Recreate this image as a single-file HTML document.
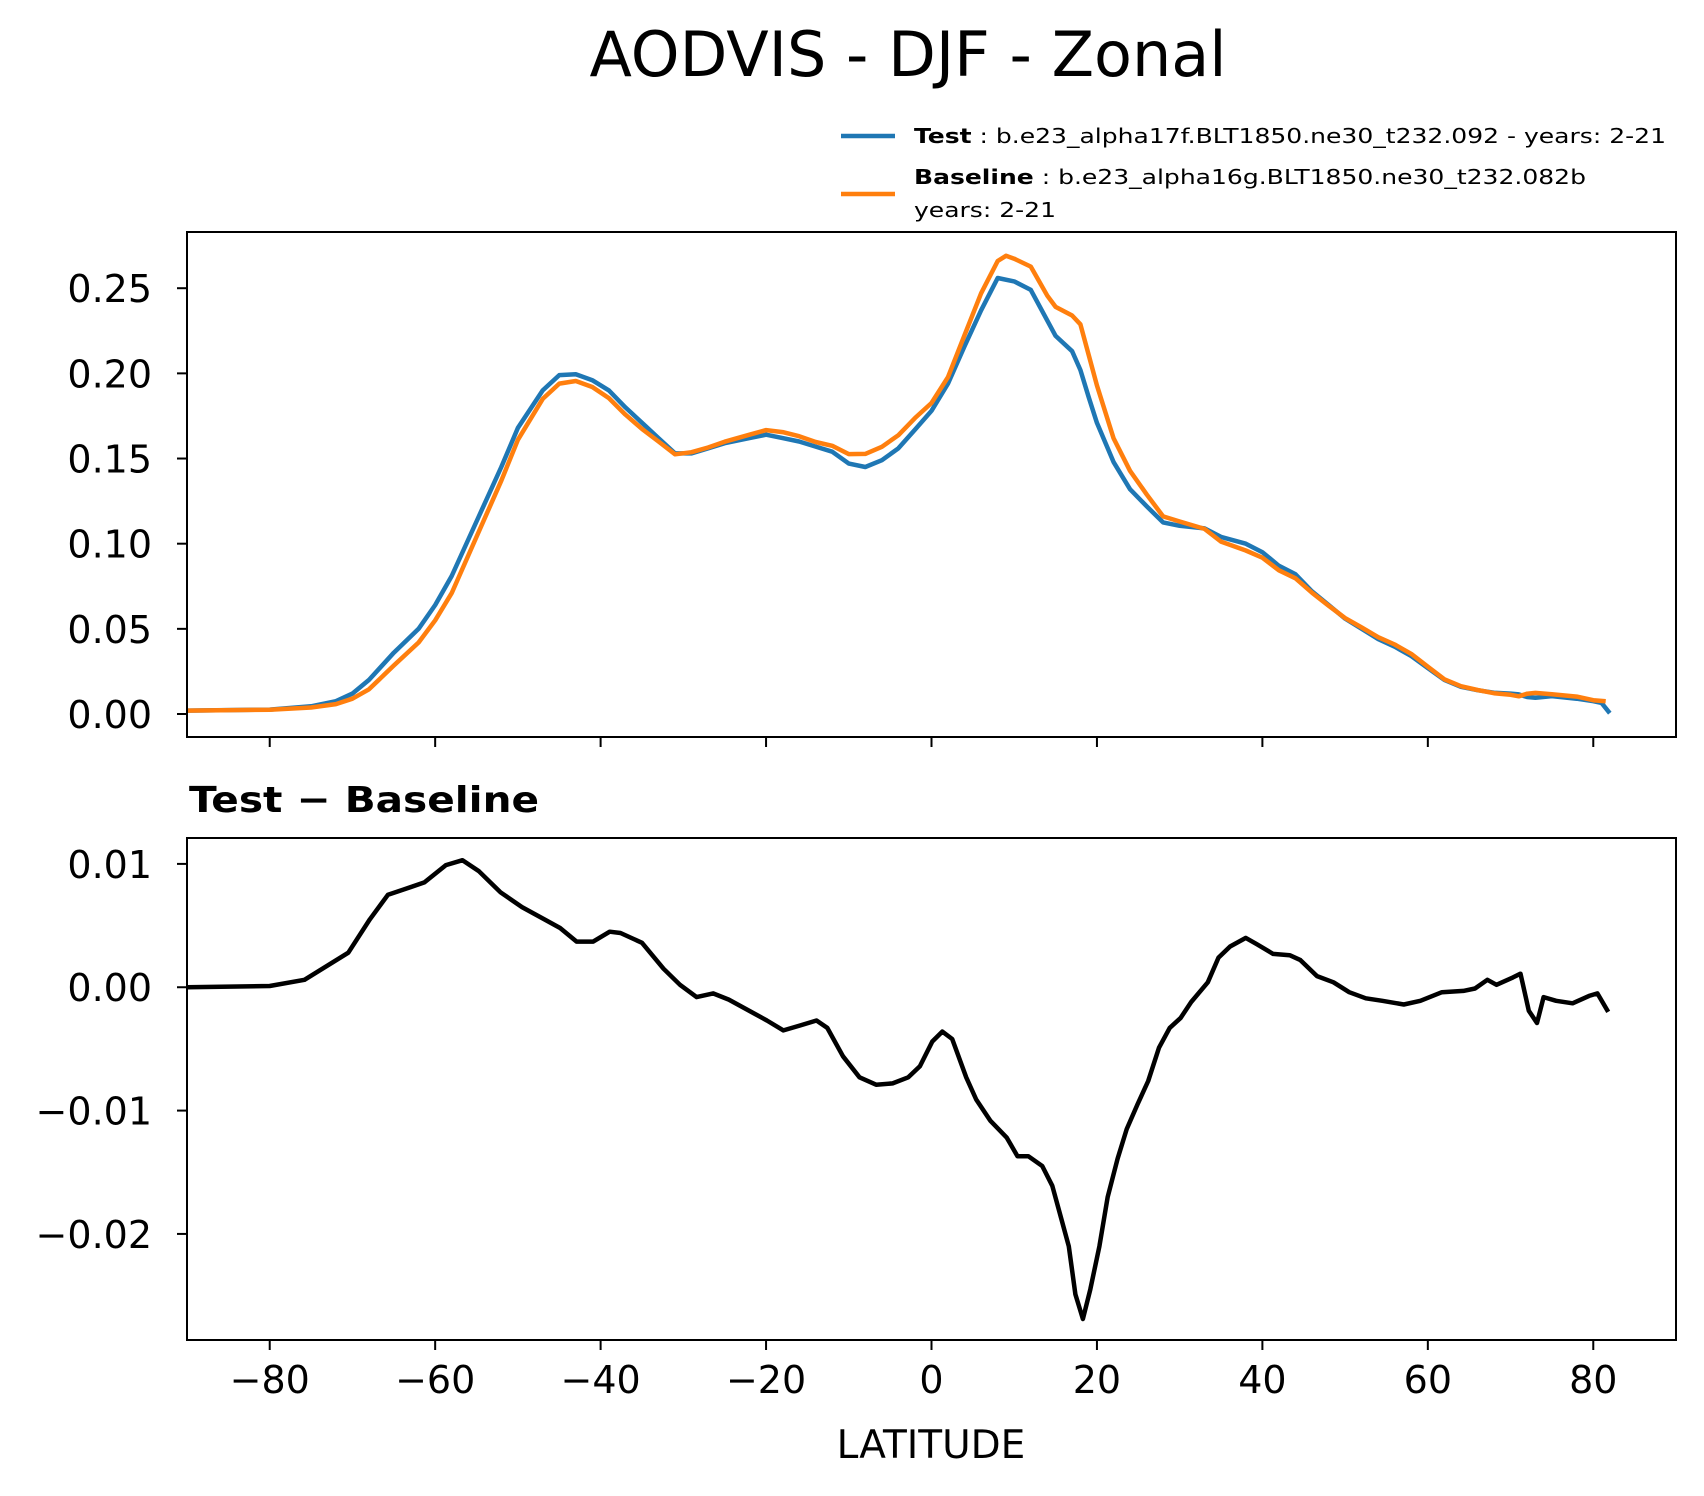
<!DOCTYPE html>
<html><head><meta charset="utf-8">
<style>
html,body{margin:0;padding:0;background:#fff;}
svg{display:block;font-family:"DejaVu Sans","Liberation Sans",sans-serif;}
</style></head>
<body>
<svg id="chart" width="1704" height="1496" viewBox="0 0 1704 1496" xmlns="http://www.w3.org/2000/svg">
  <rect width="1704" height="1496" fill="#fff"/>
  <text x="908" y="76" font-size="62" text-anchor="middle">AODVIS - DJF - Zonal</text>
  <g>
    <line x1="841" y1="136" x2="895" y2="136" stroke="#1f77b4" stroke-width="4.5"/>
    <text x="914" y="143" font-size="20" textLength="752" lengthAdjust="spacingAndGlyphs"><tspan font-weight="bold">Test</tspan> : b.e23_alpha17f.BLT1850.ne30_t232.092 - years: 2-21</text>
    <line x1="841" y1="194" x2="895" y2="194" stroke="#ff7f0e" stroke-width="4.5"/>
    <text x="914" y="184" font-size="20" textLength="672" lengthAdjust="spacingAndGlyphs"><tspan font-weight="bold">Baseline</tspan> : b.e23_alpha16g.BLT1850.ne30_t232.082b</text>
    <text x="914" y="217" font-size="20" textLength="142" lengthAdjust="spacingAndGlyphs">years: 2-21</text>
  </g>
  <g id="top"></g>
  <text x="189" y="812" font-size="36" font-weight="bold" textLength="350" lengthAdjust="spacingAndGlyphs">Test − Baseline</text>
  <g id="bot"></g>
  <text x="931" y="1458" font-size="39" text-anchor="middle">LATITUDE</text>
</svg>
<script>
// ---- data ----
const testLat = [-90,-80,-75,-72,-70,-68,-65,-62,-60,-58,-55,-52,-50,-47,-45,-43,-41,-39,-37,-35,-33,-31,-29,-27,-25,-22,-20,-18,-16,-14,-12,-10,-8,-6,-4,-2,0,2,4,6,8,10,12,14,15,17,18,19,20,22,24,26,28,30,33,35,38,40,42,44,46,48,50,52,54,56,58,60,62,64,66,68,70,71,72,73,75,78,80,81,82];
const testVal = [0.002,0.0026,0.0045,0.0075,0.012,0.020,0.036,0.050,0.064,0.081,0.113,0.145,0.168,0.190,0.199,0.1995,0.196,0.190,0.180,0.171,0.162,0.153,0.153,0.156,0.159,0.162,0.164,0.162,0.160,0.157,0.154,0.147,0.145,0.149,0.156,0.167,0.178,0.194,0.216,0.237,0.256,0.254,0.249,0.231,0.222,0.213,0.202,0.186,0.171,0.148,0.132,0.122,0.1125,0.1105,0.109,0.104,0.100,0.095,0.087,0.082,0.072,0.064,0.056,0.050,0.044,0.0395,0.034,0.027,0.020,0.016,0.014,0.0125,0.012,0.0115,0.010,0.0095,0.0105,0.009,0.0075,0.0065,0.0005];
const baseLat = [-90,-80,-75,-72,-70,-68,-65,-62,-60,-58,-55,-52,-50,-47,-45,-43,-41,-39,-37,-35,-33,-31,-29,-27,-25,-22,-20,-18,-16,-14,-12,-10,-8,-6,-4,-2,0,2,4,6,8,9,10,12,14,15,17,18,19,20,22,24,26,28,30,33,35,38,40,42,44,46,48,50,52,54,56,58,60,62,64,66,68,70,71,72,73,75,78,80,81.5];
const baseVal = [0.002,0.0025,0.0038,0.0058,0.009,0.0145,0.0285,0.042,0.055,0.071,0.104,0.137,0.161,0.185,0.194,0.1955,0.192,0.1855,0.1758,0.1674,0.160,0.1525,0.1537,0.1565,0.1599,0.164,0.1667,0.1655,0.1631,0.1597,0.1575,0.1526,0.1527,0.1569,0.1637,0.1738,0.1826,0.1978,0.2225,0.247,0.266,0.269,0.2673,0.2627,0.2456,0.239,0.234,0.2288,0.2108,0.193,0.162,0.1428,0.129,0.116,0.113,0.1087,0.1012,0.096,0.0918,0.0844,0.0797,0.0712,0.0636,0.0563,0.0508,0.0451,0.0408,0.0353,0.0278,0.0204,0.0163,0.0141,0.0122,0.0113,0.0104,0.0119,0.0124,0.0116,0.0102,0.0081,0.0075];
const diffLat = [-90,-80,-75.8,-70.5,-67.9,-65.7,-63.9,-61.3,-58.7,-56.7,-54.7,-52.1,-49.5,-46.8,-44.9,-42.9,-40.9,-38.9,-37.6,-35,-32.4,-30.4,-28.4,-26.4,-24.5,-21.8,-19.9,-17.9,-15.9,-13.9,-12.6,-10.7,-8.7,-6.7,-4.7,-2.8,-1.4,0.1,1.3,2.5,4.2,5.4,7.1,9.1,10.4,11.7,13.4,14.6,15.7,16.6,17.4,18.3,19.2,20.3,21.3,22.5,23.6,24.9,26.2,27.5,28.8,30.1,31.4,33.4,34.7,36.1,38,39.3,41.3,43.3,44.6,46.6,48.6,50.5,52.5,54.5,57.1,59.1,61.7,64.3,65.7,67.2,68.3,70.3,71.2,72.2,73.2,74,75.5,77.5,79.5,80.5,81.8];
const diffVal = [0,0.0001,0.0006,0.0028,0.0055,0.0075,0.0079,0.0085,0.0099,0.0103,0.0094,0.0077,0.0065,0.0055,0.0048,0.0037,0.0037,0.0045,0.0044,0.0036,0.0015,0.0002,-0.0008,-0.0005,-0.001,-0.002,-0.0027,-0.0035,-0.0031,-0.0027,-0.0033,-0.0056,-0.0073,-0.0079,-0.0078,-0.0073,-0.0064,-0.0044,-0.0036,-0.0042,-0.0073,-0.0091,-0.0108,-0.0122,-0.0137,-0.0137,-0.0145,-0.0161,-0.0188,-0.021,-0.0249,-0.0269,-0.0245,-0.021,-0.017,-0.0139,-0.0115,-0.0095,-0.0076,-0.0049,-0.0033,-0.0025,-0.0012,0.0004,0.0024,0.0033,0.004,0.0035,0.0027,0.0026,0.0022,0.0009,0.0004,-0.0004,-0.0009,-0.0011,-0.0014,-0.0011,-0.0004,-0.0003,-0.0001,0.0006,0.0002,0.0008,0.0011,-0.0019,-0.0029,-0.0008,-0.0011,-0.0013,-0.0007,-0.0005,-0.002];
const xTicks = [-80,-60,-40,-20,0,20,40,60,80];
const xTickLabels = ["−80","−60","−40","−20","0","20","40","60","80"];
const topTicks = [0,0.05,0.10,0.15,0.20,0.25];
const topTickLabels = ["0.00","0.05","0.10","0.15","0.20","0.25"];
const botTicks = [-0.02,-0.01,0,0.01];
const botTickLabels = ["−0.02","−0.01","0.00","0.01"];

const NS = "http://www.w3.org/2000/svg";
const L = 187, R = 1676;
const xs = v => L + (v + 90) / 180 * (R - L);
function mk(tag, attrs, parent) {
  const e = document.createElementNS(NS, tag);
  for (const k in attrs) e.setAttribute(k, attrs[k]);
  parent.appendChild(e);
  return e;
}
function panel(g, top, bottom, yMin, yMax, ticks, labels, showXLabels, name) {
  const ys = v => bottom - (v - yMin) / (yMax - yMin) * (bottom - top);
  ticks.forEach((t, i) => {
    const tk = mk("line", {x1: L - 10, x2: L, y1: ys(t), y2: ys(t), stroke: "#000", "stroke-width": 2}, g);
    
    
    const tx = mk("text", {x: L - 35, y: ys(t) + 14, "font-size": 38, "text-anchor": "end"}, g);
    tx.textContent = labels[i];
    
    
  });
  xTicks.forEach((t, i) => {
    const tk = mk("line", {x1: xs(t), x2: xs(t), y1: bottom, y2: bottom + 10, stroke: "#000", "stroke-width": 2}, g);
    
    
    if (showXLabels) {
      const tx = mk("text", {x: xs(t), y: bottom + 53, "font-size": 38, "text-anchor": "middle"}, g);
      tx.textContent = xTickLabels[i];
      
      
    }
  });
  return ys;
}
function series(g, lats, vals, ys, color, name) {
  const d = lats.map((la, i) => (i ? "L" : "M") + xs(la).toFixed(1) + "," + ys(vals[i]).toFixed(1)).join("");
  const p = mk("path", {d: d, fill: "none", stroke: color, "stroke-width": 4.5, "stroke-linejoin": "round"}, g);
  
  
}
function frame(g, top, bottom, name) {
  const r = mk("rect", {x: L, y: top, width: R - L, height: bottom - top, fill: "none", stroke: "#000", "stroke-width": 2}, g);
  
  
}
const gt = document.getElementById("top");
const ysTop = panel(gt, 232, 737, -0.0135, 0.283, topTicks, topTickLabels, false, "top");
series(gt, testLat, testVal, ysTop, "#1f77b4", "test-line");
series(gt, baseLat, baseVal, ysTop, "#ff7f0e", "baseline-line");
frame(gt, 232, 737, "top");
const gb = document.getElementById("bot");
const ysBot = panel(gb, 838, 1340, -0.0286, 0.0121, botTicks, botTickLabels, true, "diff");
series(gb, diffLat, diffVal, ysBot, "#000", "diff-line");
frame(gb, 838, 1340, "diff");
</script>
</body></html>
